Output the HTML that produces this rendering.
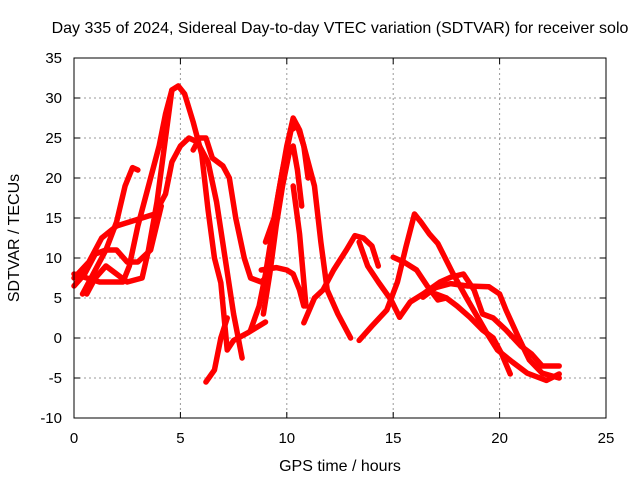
<!DOCTYPE html>
<html><head><meta charset="utf-8"><style>
body{margin:0;background:#fff}
svg{display:block;font-family:"Liberation Sans",sans-serif}
</style></head><body>
<svg id="chart" width="640" height="480">
<rect width="640" height="480" fill="#fff"/>
<g id="grid"></g>
<g id="series"></g>
<rect x="74" y="58" width="532" height="360" fill="none" stroke="#000"/>
<g id="ticks"></g>
<text x="340" y="33" text-anchor="middle" font-size="16">Day 335 of 2024, Sidereal Day-to-day VTEC variation (SDTVAR) for receiver solo</text>
<text x="340" y="471" text-anchor="middle" font-size="16">GPS time / hours</text>
<text transform="translate(19,238) rotate(-90)" text-anchor="middle" font-size="16">SDTVAR / TECUs</text>
</svg>
<script>
const xTicks=[0,5,10,15,20,25];
const yTicks=[-10,-5,0,5,10,15,20,25,30,35];
const t1=[[0.6,5.5],[1,7.5],[1.5,9],[2,8],[2.5,7],[3.2,7.5],[3.5,11],[3.9,17],[4.3,25],[4.6,31],[4.9,31.5],[5.2,30.5],[5.6,27],[6,23],[6.3,16],[6.6,10],[6.9,6.9],[7.2,-1.5],[7.5,-0.3],[8.2,0.7],[9,2]];
const t2=[[0,7.5],[0.7,9.5],[1.3,12.5],[2,14],[2.6,14.5],[3.2,15],[3.8,15.5],[4.3,18],[4.6,22],[5,24],[5.4,25],[5.8,24.5],[6.3,22],[6.7,17],[7.1,10],[7.5,3],[7.9,-2.5]];
const t3=[[5.6,23.5],[5.9,25],[6.2,25],[6.5,22.5],[7,21.5],[7.3,20],[7.6,15],[8,10],[8.3,7.5],[8.8,7],[9,7.5]];
const t4=[[0.4,5.5],[0.9,8],[1.5,11],[2,14.5],[2.4,19],[2.75,21.3],[3,21]];
const t5=[[0,8],[0.6,7.5],[1.2,7],[1.7,7],[2.3,7],[2.6,9],[3,14],[3.3,17],[3.6,20],[4,24],[4.3,28],[4.6,31]];
const t5b=[[0,6.5],[0.5,8],[1,10.5],[1.5,11],[2,11],[2.5,9.5],[3,9.5],[3.6,11],[4.1,16.5]];
const t6=[[6.2,-5.5],[6.6,-4],[6.9,0],[7.2,2.5]];
const t7=[[8.3,1],[8.7,4],[9,8],[9.3,13],[9.6,18],[10,24],[10.3,27.5],[10.6,26],[11,22],[11.3,19],[11.6,12],[11.9,6],[12.4,3],[13,0]];
const t8=[[8.9,3],[9.2,8],[9.5,14],[9.8,19],[10.1,23],[10.3,24],[10.5,21],[10.7,16.5]];
const t9=[[9,12],[9.4,15],[9.8,21],[10.2,26],[10.5,26.5],[10.8,24],[11,20]];
const t9b=[[10.3,19],[10.6,13],[10.9,4]];
const t10=[[8.8,8.5],[9.5,8.8],[10,8.5],[10.3,8],[10.6,6],[10.8,4]];
const t11=[[10.8,1.9],[11.3,5],[11.7,6],[12.2,8.5],[12.8,11],[13.2,12.8],[13.6,12.5],[14,11.5],[14.3,9]];
const t12=[[13.4,12],[13.8,9],[14.3,7],[14.9,4.75],[15.3,2.6]];
const t13=[[13.4,-0.3],[14,1.5],[14.7,3.5],[15.2,7],[15.6,11.4],[16,15.5],[16.3,14.5],[16.7,13],[17.1,11.8],[17.8,8.1],[18.5,4.75],[19.1,2],[19.4,0.6],[19.9,-1.5],[20.6,-3],[21.3,-4.4],[22.2,-5.3],[22.8,-4.5]];
const t14=[[15,10.1],[15.5,9.5],[16.1,8.5],[16.6,6.5],[17.1,4.75],[17.5,5]];
const t15=[[15.3,2.6],[15.8,4.5],[16.4,5.5],[17.2,7],[17.7,7.6],[18.3,8],[18.8,6],[19.2,3],[19.7,2.5],[20.3,1],[21,-1],[21.5,-2],[22,-3.5],[22.8,-3.5]];
const t16=[[16.4,5.1],[17,6.3],[17.7,6.8],[18.5,6.5],[19.5,6.4],[20,5.5],[20.3,3.5],[20.9,0],[21.4,-2.75],[22,-4.4],[22.8,-5]];
const t17=[[17,5.5],[17.5,5],[18,4],[18.6,2.6],[19.2,1],[19.7,0],[20.1,-2],[20.5,-4.5]];
const tracks=[t1,t2,t3,t4,t5,t5b,t6,t7,t8,t9,t9b,t10,t11,t12,t13,t14,t15,t16,t17];
const NS='http://www.w3.org/2000/svg';
const X0=74,X1=606,Y0=418,Y1=58;
function sx(v){return X0+(v-0)/25*(X1-X0);}
function sy(v){return Y0-(v+10)/45*(Y0-Y1);}
const grid=document.getElementById('grid'),ticks=document.getElementById('ticks'),ser=document.getElementById('series');
function mk(tag,attrs,parent){const e=document.createElementNS(NS,tag);for(const k in attrs)e.setAttribute(k,attrs[k]);parent.appendChild(e);return e;}
xTicks.forEach(v=>{
 const x=sx(v);
 if(v>0&&v<25){const g=mk('line',{x1:x,x2:x,y1:Y1,y2:Y0,stroke:'#999','stroke-dasharray':'2,3'},grid);
 
 }
 mk('line',{x1:x,x2:x,y1:Y0,y2:Y0-6,stroke:'#000'},ticks);
 mk('line',{x1:x,x2:x,y1:Y1,y2:Y1+6,stroke:'#000'},ticks);
 const t=mk('text',{x:x,y:443,'text-anchor':'middle','font-size':'15'},ticks);t.textContent=v;
 
 
});
yTicks.forEach(v=>{
 const y=sy(v);
 if(v>-10&&v<35){const g=mk('line',{x1:X0,x2:X1,y1:y,y2:y,stroke:'#999','stroke-dasharray':'2,3'},grid);
 
 }
 mk('line',{x1:X0,x2:X0+6,y1:y,y2:y,stroke:'#000'},ticks);
 mk('line',{x1:X1,x2:X1-6,y1:y,y2:y,stroke:'#000'},ticks);
 const t=mk('text',{x:62,y:y+5,'text-anchor':'end','font-size':'15'},ticks);t.textContent=v;
 
 
});
tracks.forEach(tr=>{
 const p=mk('polyline',{points:tr.map(d=>sx(d[0])+','+sy(d[1])).join(' '),fill:'none',stroke:'#ff0000','stroke-width':'5.5','stroke-linejoin':'round','stroke-linecap':'round'},ser);
 
 
});
</script>
</body></html>
